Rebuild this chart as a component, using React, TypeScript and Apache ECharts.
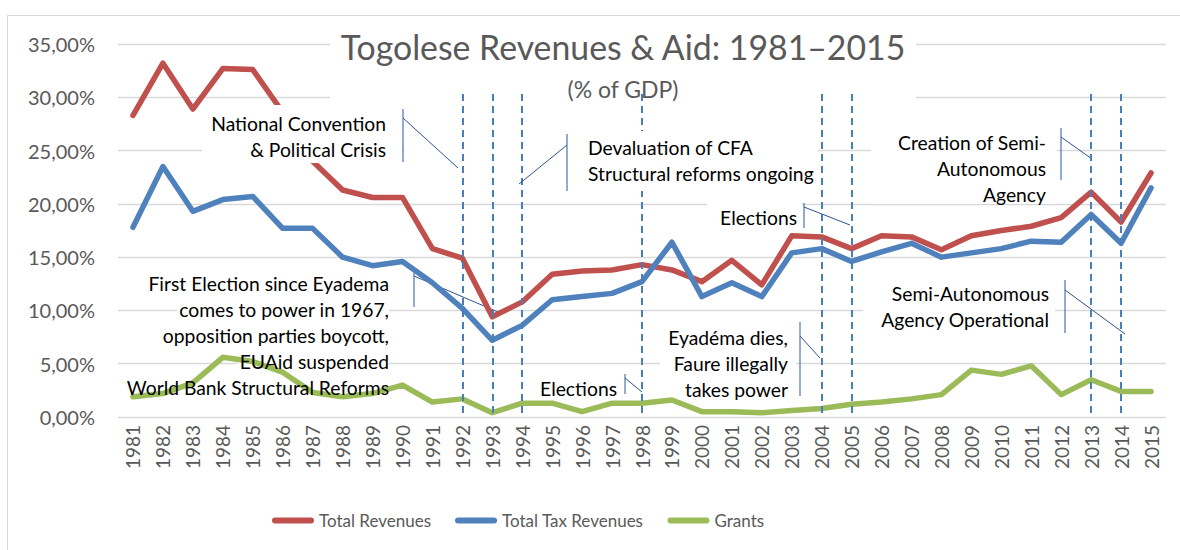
import React, { useEffect, useRef } from "react";
import * as echarts from "echarts";

const years = ["1981","1982","1983","1984","1985","1986","1987","1988","1989","1990","1991","1992","1993","1994","1995","1996","1997","1998","1999","2000","2001","2002","2003","2004","2005","2006","2007","2008","2009","2010","2011","2012","2013","2014","2015"];
const totalRevenues = [28.3,33.2,28.9,32.7,32.6,28.6,24.0,21.3,20.6,20.6,15.8,14.9,9.4,10.8,13.4,13.7,13.8,14.3,13.8,12.7,14.7,12.4,17.0,16.9,15.8,17.0,16.9,15.7,17.0,17.5,17.9,18.7,21.1,18.3,22.9];
const totalTax = [17.8,23.5,19.3,20.4,20.7,17.7,17.7,15.0,14.2,14.6,12.6,10.2,7.2,8.6,11.0,11.3,11.6,12.7,16.4,11.3,12.6,11.3,15.4,15.8,14.6,15.5,16.3,15.0,15.4,15.8,16.5,16.4,19.0,16.3,21.5];
const grants = [1.9,2.2,3.2,5.6,5.2,4.2,2.3,1.9,2.2,3.0,1.4,1.7,0.4,1.3,1.3,0.5,1.3,1.3,1.6,0.5,0.5,0.4,0.6,0.8,1.2,1.4,1.7,2.1,4.4,4.0,4.8,2.1,3.5,2.4,2.4];
const eventYears = ["1992","1993","1994","1998","2004","2005","2013","2014"];
const seriesNames = ["Total Revenues", "Total Tax Revenues", "Grants"];
const yTicks = [0, 5, 10, 15, 20, 25, 30, 35];

const FONT = 'Lato, "Open Sans", sans-serif';
const CALLOUT = "#2f528f";
const ANN_SIZE = 19.3;

type Ann = {
  lines: string[];
  x: number;
  y: number;
  align: "left" | "right";
  lineBg?: boolean;
  box?: [number, number, number, number, number];
  bracket: [number, number, number];
  diag: [number, number, number, number];
};

const annotations: Ann[] = [
  { lines: ["National Convention", "& Political Crisis"], x: 386, y: 123, align: "right",
    box: [202, 105, 200, 58, 10], bracket: [403, 109, 162], diag: [403, 118, 458, 168] },
  { lines: ["Devaluation of CFA", "Structural reforms ongoing"], x: 588, y: 147, align: "left",
    box: [572, 131, 246, 60, 10], bracket: [567, 134, 191], diag: [567, 145, 519, 184] },
  { lines: ["Elections"], x: 797, y: 217, align: "right",
    box: [707, 201, 95, 32, 1], bracket: [804, 203, 228], diag: [804, 207, 850, 225] },
  { lines: ["Creation of Semi-", "Autonomous", "Agency"], x: 1046, y: 142, align: "right",
    box: [871, 128, 186, 76, 1], bracket: [1061, 128, 180], diag: [1061, 137, 1092, 159] },
  { lines: ["First Election since Eyadema", "comes to power in 1967,", "opposition parties boycott,", "EUAid suspended", "World Bank Structural Reforms"],
    x: 389, y: 283, align: "right", lineBg: true, bracket: [414, 269, 307], diag: [414, 276, 498, 312] },
  { lines: ["Elections"], x: 617, y: 388, align: "right",
    box: [537, 374, 84, 28, 1], bracket: [625, 374, 394], diag: [625, 378, 642, 392] },
  { lines: ["Eyadéma dies,", "Faure illegally", "takes power"], x: 788, y: 337, align: "right",
    box: [660, 323, 136, 78, 1], bracket: [800, 322, 396], diag: [800, 336, 820, 358] },
  { lines: ["Semi-Autonomous", "Agency Operational"], x: 1049, y: 293, align: "right",
    box: [863, 279, 192, 54, 1], bracket: [1065, 280, 333], diag: [1065, 290, 1125, 334] },
];

function buildGraphics() {
  const els: any[] = [];
  els.push({ type: "rect", z: 0, silent: true, shape: { x: 7.5, y: 15.5, width: 1200, height: 600 },
    style: { fill: "none", stroke: "#d9d9d9", lineWidth: 1 } });
  els.push({ type: "rect", z: 1, silent: true, shape: { x: 330, y: 24, width: 586, height: 75 }, style: { fill: "#fff" } });
  els.push({ type: "text", z: 11, silent: true, x: 623, y: 47,
    style: { text: "Togolese Revenues & Aid: 1981\u20132015", fontSize: 33.8, fontFamily: FONT, fill: "#595959",
      align: "center", verticalAlign: "middle", textAlign: "center", textVerticalAlign: "middle" } });
  els.push({ type: "text", z: 11, silent: true, x: 623, y: 89,
    style: { text: "(% of GDP)", fontSize: 23, fontFamily: FONT, fill: "#595959",
      align: "center", verticalAlign: "middle", textAlign: "center", textVerticalAlign: "middle" } });
  els.push({ type: "rect", z: 1, silent: true, shape: { x: 404, y: 140, width: 168, height: 20 }, style: { fill: "#fff" } });
  annotations.forEach((a) => {
    const z = a.box ? a.box[4] : 1;
    if (a.box) {
      els.push({ type: "rect", z: a.box[4], silent: true,
        shape: { x: a.box[0], y: a.box[1], width: a.box[2], height: a.box[3] }, style: { fill: "#fff" } });
    }
    a.lines.forEach((ln, i) => {
      const base = { fontSize: ANN_SIZE, fontFamily: FONT, align: a.align, verticalAlign: "middle",
        textAlign: a.align, textVerticalAlign: "middle", text: ln };
      if (a.lineBg) {
        // white mask under the series, to hide gridlines only
        els.push({ type: "text", z: 1, silent: true, x: a.x, y: a.y + i * 26.2,
          style: { ...base, fill: "#fff", backgroundColor: "#fff", padding: [0, 1] } });
      }
      els.push({ type: "text", z: a.lineBg ? 11 : z + 1, silent: true, x: a.x, y: a.y + i * 26.2,
        style: { ...base, fill: "#000" } });
    });
    els.push({ type: "line", z: z + 1, silent: true,
      shape: { x1: a.bracket[0], y1: a.bracket[1], x2: a.bracket[0], y2: a.bracket[2] },
      style: { stroke: "#4a72b8", lineWidth: 1.2 } });
    els.push({ type: "line", z: z + 1, silent: true,
      shape: { x1: a.diag[0], y1: a.diag[1], x2: a.diag[2], y2: a.diag[3] },
      style: { stroke: CALLOUT, lineWidth: 1 } });
  });
  return els;
}

export default function App() {
  const ref = useRef<HTMLDivElement>(null);
  useEffect(() => {
    if (!ref.current) return;
    const chart = echarts.init(ref.current, undefined, { renderer: "svg" });
    const colors = ["#C0504D", "#4F81BD", "#9BBB59"];
    const dataSets = [totalRevenues, totalTax, grants];
    chart.setOption({
      animation: false,
      backgroundColor: "#fff",
      textStyle: { fontFamily: FONT },
      legend: {
        left: 267, top: 507, itemWidth: 42, itemHeight: 6, itemGap: 24,
        icon: "path://M3,0 L39,0 A3,3 0 0 1 39,6 L3,6 A3,3 0 0 1 3,0 Z",
        textStyle: { fontSize: 17, color: "#595959", fontFamily: FONT },
        data: seriesNames,
      },
      grid: { left: 118, right: 14, top: 44, bottom: 133 },
      xAxis: {
        type: "category", data: years, boundaryGap: true,
        axisLine: { show: false }, axisTick: { show: false },
        axisLabel: { rotate: 90, fontSize: 19, color: "#595959", margin: 8, fontFamily: FONT },
      },
      yAxis: {
        type: "value", min: yTicks[0], max: yTicks[yTicks.length - 1], interval: 5,
        axisLine: { show: false }, axisTick: { show: false },
        splitLine: { lineStyle: { color: "#d9d9d9", width: 1.3 } },
        axisLabel: { fontSize: 20, color: "#595959", margin: 23, fontFamily: FONT,
          formatter: (v: number) => v.toFixed(2).replace(".", ",") + "%" },
      },
      series: seriesNames.map((name, i) => ({
        name, type: "line", data: dataSets[i], symbol: "none", z: 2,
        lineStyle: { width: 5.5, color: colors[i], cap: "round", join: "round" },
        itemStyle: { color: colors[i] },
        markLine: i === 0 ? {
          silent: true, symbol: ["none", "none"], label: { show: false },
          lineStyle: { color: "#4a7ebb", width: 2, type: [7, 5] },
          data: eventYears.map((y) => [{ coord: [y, 30.3] }, { coord: [y, 0] }]),
        } : undefined,
      })),
      graphic: buildGraphics(),
    });
    return () => chart.dispose();
  }, []);
  return <div ref={ref} style={{ width: 1180, height: 550, position: "absolute", left: 0, top: 0 }} />;
}
